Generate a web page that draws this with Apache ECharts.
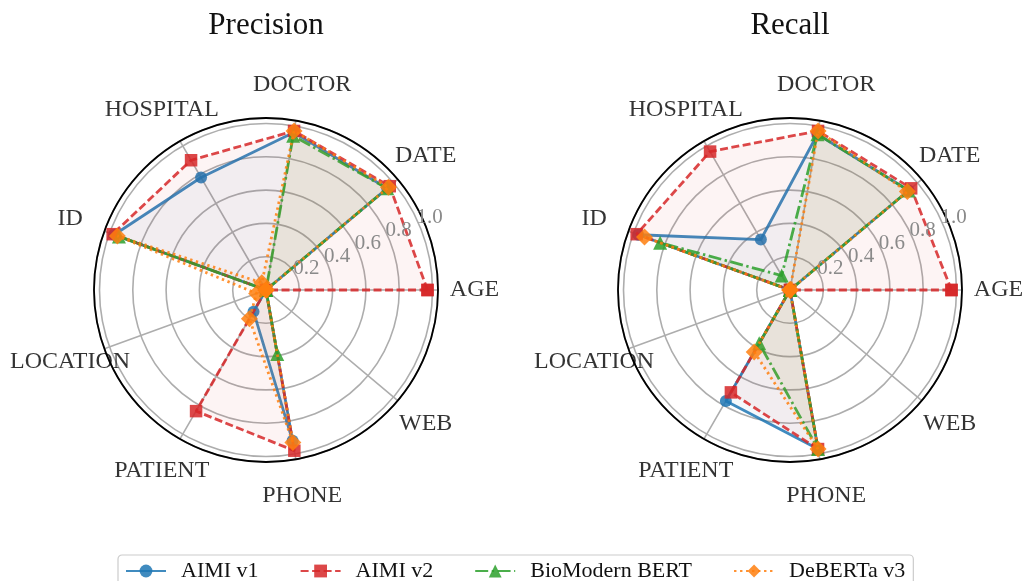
<!DOCTYPE html>
<html>
<head>
<meta charset="utf-8">
<script src="https://cdn.jsdelivr.net/npm/echarts@6/dist/echarts.min.js"></script>
<style>
  html, body { margin: 0; padding: 0; background: #ffffff; }
  #chart { width: 1029px; height: 581px; }
</style>
</head>
<body>
<div id="chart"></div>
<script>
// Entity categories, counter-clockwise from the right
const categories = ['AGE', 'DATE', 'DOCTOR', 'HOSPITAL', 'ID', 'LOCATION', 'PATIENT', 'PHONE', 'WEB'];
const panelTitles = ['Precision', 'Recall'];
const radialTicks = [0.2, 0.4, 0.6, 0.8, 1.0];
const modelNames = ['AIMI v1', 'AIMI v2', 'BioModern BERT', 'DeBERTa v3'];

// Precision per category
const precisionAimiV1 = [0, 0.95, 0.96, 0.78, 0.97, 0, 0.15, 0.92, 0];
const precisionAimiV2 = [0.97, 0.97, 0.97, 0.90, 0.98, 0, 0.84, 0.98, 0];
const precisionBioModern = [0, 0.95, 0.94, 0, 0.94, 0, 0, 0.39, 0];
const precisionDeberta = [0, 0.96, 0.97, 0.05, 0.95, 0.06, 0.20, 0.93, 0];

// Recall per category
const recallAimiV1 = [0, 0.93, 0.95, 0.35, 0.97, 0, 0.77, 0.97, 0];
const recallAimiV2 = [0.97, 0.95, 0.97, 0.96, 0.98, 0, 0.71, 0.97, 0];
const recallBioModern = [0, 0.93, 0.95, 0.10, 0.83, 0, 0.37, 0.97, 0];
const recallDeberta = [0, 0.92, 0.97, 0, 0.93, 0, 0.43, 0.97, 0];

const panelValues = [
  [precisionAimiV1, precisionAimiV2, precisionBioModern, precisionDeberta],
  [recallAimiV1, recallAimiV2, recallBioModern, recallDeberta]
];

const FONT = '"Liberation Serif", "DejaVu Serif", serif';
const RADIUS_MAX = 1.033;      // outer ring, a little beyond 1.0
const LABEL_RADIUS = 1.252;    // where the category names are centred
const panelCenters = [[266, 290], [790, 290]];
const PANEL_RADIUS = 172;
const STEP = 360 / categories.length;
const GRID_COLOR = '#adadad';

const modelStyles = [
  { color: '#1f77b4', symbol: 'circle', size: 12, dash: 'solid' },
  { color: '#d62728', symbol: 'rect', size: 12.5, dash: [8, 3.5] },
  { color: '#2ca02c', symbol: 'triangle', size: 14, dash: [13, 3.5, 2.4, 3.5] },
  { color: '#ff7f0e', symbol: 'diamond', size: 17, dash: [2.4, 3.6] }
];

const polar = [];
const angleAxis = [];
const radiusAxis = [];
const title = [];
const series = [];

panelCenters.forEach((c, p) => {
  // main grid: spokes, circles, outer ring
  polar.push({ center: [c[0], c[1]], radius: PANEL_RADIUS });
  // companion system rotated so the radial tick labels sit at 22.5 degrees
  polar.push({ center: [c[0], c[1]], radius: PANEL_RADIUS });

  angleAxis.push({
    polarIndex: 2 * p,
    type: 'value', min: 0, max: 360, interval: STEP,
    startAngle: 0,
    clockwise: false,
    axisLine: { show: true, lineStyle: { color: '#000000', width: 1.8 } },
    axisTick: { show: false },
    axisLabel: { show: false },
    splitLine: { show: true, lineStyle: { color: GRID_COLOR, width: 1.6 } },
    z: 1
  });
  angleAxis.push({
    polarIndex: 2 * p + 1,
    type: 'value', min: 0, max: 360,
    startAngle: 22.5, clockwise: false,
    show: false
  });

  radiusAxis.push({
    polarIndex: 2 * p,
    type: 'value', min: 0, max: RADIUS_MAX, interval: 0.2,
    axisLine: { show: false },
    axisTick: { show: false },
    axisLabel: { show: false },
    splitLine: { show: true, lineStyle: { color: GRID_COLOR, width: 1.6 } },
    z: 1
  });
  radiusAxis.push({
    polarIndex: 2 * p + 1,
    type: 'value', min: 0, max: RADIUS_MAX, interval: 0.2,
    axisLine: { show: false },
    axisTick: { show: false },
    splitLine: { show: false },
    axisLabel: {
      show: true, margin: 9, align: 'left', verticalAlign: 'middle',
      fontFamily: FONT, fontSize: 21, color: '#8a8a8a',
      formatter: (v) => {
        const hit = radialTicks.find((t) => Math.abs(t - v) < 1e-6);
        return hit === undefined ? '' : hit.toFixed(1);
      }
    },
    z: 5
  });

  title.push({
    text: panelTitles[p],
    left: c[0], top: 10, padding: 0,
    textAlign: 'center',
    textStyle: { fontFamily: FONT, fontSize: 31, fontWeight: 'normal', color: '#111111', lineHeight: 32 }
  });

  panelValues[p].forEach((vals, m) => {
    const st = modelStyles[m];
    const data = categories.map((cat, i) => [vals[i], i * STEP]);
    data.push([vals[0], 360]);   // close the polygon back at the first category
    series.push({
      name: modelNames[m],
      type: 'line',
      coordinateSystem: 'polar',
      polarIndex: 2 * p,
      data: data,
      symbol: st.symbol,
      symbolSize: st.size,
      showSymbol: true,
      clip: false,
      lineStyle: { color: st.color, width: 2.8, type: st.dash, opacity: 0.85 },
      itemStyle: { color: st.color, opacity: 0.85 },
      areaStyle: { color: st.color, opacity: 0.05 },
      z: 2 + m,
      animation: false
    });
  });

  // category names, centred just outside the ring
  series.push({
    name: 'category names',
    type: 'scatter',
    coordinateSystem: 'polar',
    polarIndex: 2 * p,
    data: categories.map((cat, i) => ({ name: cat, value: [LABEL_RADIUS, i * STEP] })),
    symbolSize: 0,
    clip: false,
    silent: true,
    label: {
      show: true, position: 'inside', formatter: '{b}',
      fontFamily: FONT, fontSize: 24, color: '#000000', textBorderWidth: 0
    },
    z: 10,
    animation: false
  });
});

const chart = echarts.init(document.getElementById('chart'), null, { renderer: 'canvas' });
chart.setOption({
  backgroundColor: '#ffffff',
  animation: false,
  title: title,
  polar: polar,
  angleAxis: angleAxis,
  radiusAxis: radiusAxis,
  legend: {
    data: modelNames,
    left: 118, top: 555,
    orient: 'horizontal',
    itemWidth: 40, itemHeight: 16, itemGap: 41,
    padding: [5, 8, 5, 7],
    borderColor: '#cccccc', borderWidth: 1.2, borderRadius: 4,
    backgroundColor: '#ffffff',
    textStyle: { fontFamily: FONT, fontSize: 22, color: '#111111', padding: [0, 0, 0, 10] }
  },
  series: series
});
</script>
</body>
</html>
